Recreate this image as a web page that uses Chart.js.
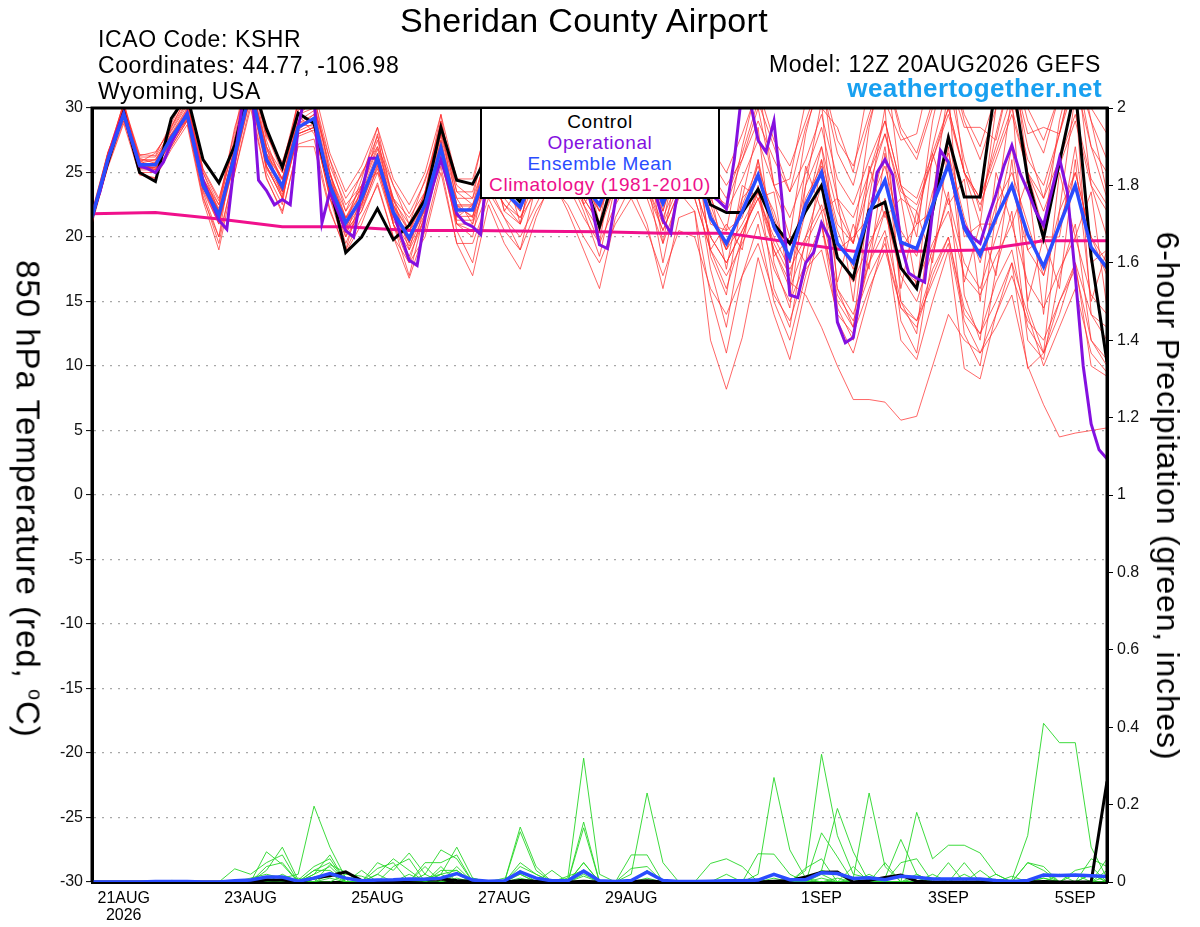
<!DOCTYPE html>
<html><head><meta charset="utf-8">
<script src="https://cdn.jsdelivr.net/npm/chart.js@4.4.1/dist/chart.umd.min.js"></script>
<style>
body{margin:0;background:#fff;}
#wrap{position:relative;width:1200px;height:927px;overflow:hidden;font-family:'Liberation Sans',Arial,Helvetica,sans-serif;color:#000;}
#wrap canvas{position:absolute;left:0;top:0;}
.txt{position:absolute;white-space:nowrap;line-height:1;letter-spacing:0.6px;font-size:23px;}
#legend{position:absolute;left:480px;top:107px;width:240px;height:92px;box-sizing:border-box;border:2px solid #000;background:#fff;text-align:center;font-size:19px;letter-spacing:0.6px;line-height:21.3px;padding-top:1.5px;}
.ax{position:absolute;white-space:nowrap;font-size:32px;letter-spacing:0.8px;line-height:1;transform:translate(-50%,-50%) rotate(90deg);}
</style></head>
<body>
<div id="wrap">
<canvas id="c" width="1200" height="927"></canvas>
<div class="txt" style="left:584px;top:3px;font-size:34px;letter-spacing:0.3px;transform:translateX(-50%);">Sheridan County Airport</div>
<div class="txt" style="left:98px;top:27.5px;">ICAO Code: KSHR</div>
<div class="txt" style="left:98px;top:53.5px;">Coordinates: 44.77, -106.98</div>
<div class="txt" style="left:98px;top:79.5px;">Wyoming, USA</div>
<div class="txt" style="right:99px;top:52.5px;">Model: 12Z 20AUG2026 GEFS</div>
<div class="txt" style="right:98px;top:75px;font-size:26px;font-weight:bold;letter-spacing:0.4px;color:#18a0f0;">weathertogether.net</div>
<div id="legend">
<div style="color:#000">Control</div>
<div style="color:#8410e0">Operational</div>
<div style="color:#2a4cff">Ensemble Mean</div>
<div style="color:#ee0f8a">Climatology (1981-2010)</div>
</div>
<div class="ax" style="left:28px;top:499px;font-size:33px;letter-spacing:1px;">850 hPa Temperature (red, <span style="font-size:60%;vertical-align:60%;">o</span>C)</div>
<div class="ax" style="left:1168px;top:496px;">6-hour Precipitation (green, inches)</div>
</div>
<script>
// time axis: hours after 12Z 20AUG2026
const xTickHours = [12, 60, 108, 156, 204, 276, 324, 372];
const xTickLabels = [['21AUG', '2026'], '23AUG', '25AUG', '27AUG', '29AUG', '1SEP', '3SEP', '5SEP'];

// 850 hPa temperature (deg C), 6-hourly
const controlTemp = [21.5,25.8,29.7,25.0,24.3,29.2,31.0,26.0,24.2,27.1,
32.5,28.4,25.4,29.6,28.8,24.0,18.8,20.0,22.2,19.8,
20.9,22.9,28.5,24.4,24.1,26.5,24.0,22.7,25.5,28.5,
27.0,24.5,20.8,25.0,28.0,26.0,24.5,26.5,26.0,22.5,
21.9,21.9,23.7,21.0,19.5,22.0,24.0,18.4,16.8,22.1,
22.7,17.6,16.0,22.0,27.7,23.1,23.1,32.0,32.5,24.5,
19.9,25.8,31.5,18.5,10.3];
const meanTemp = [21.5,26.0,29.5,25.6,25.6,27.7,29.5,24.0,21.7,26.4,
31.5,26.0,23.9,28.5,29.2,24.0,21.1,23.0,26.1,21.9,
19.9,22.5,26.9,22.1,22.1,25.5,23.5,22.3,25.0,27.5,
26.5,24.0,22.5,25.5,27.5,25.5,22.6,25.5,25.5,21.5,
19.5,22.0,24.8,20.8,18.4,22.5,25.0,19.5,18.0,21.9,
24.4,19.6,19.1,22.5,25.6,20.7,18.6,21.5,24.0,20.2,
17.7,20.9,24.0,19.2,17.6];
// operational run, 3-hourly
const operationalTemp = [21.8,23.5,26.0,28.0,29.6,27.5,25.5,25.3,25.0,25.8,
27.3,28.5,29.6,27.0,24.4,22.8,21.3,20.6,26.0,30.5,
33.0,24.4,23.6,22.5,22.9,22.5,28.5,31.5,31.0,21.1,
23.5,22.0,20.5,20.0,23.5,26.1,26.1,24.0,21.9,20.0,
18.2,17.8,21.5,24.0,26.0,24.0,21.8,21.1,20.8,20.2,
26.5,29.0,27.0,25.0,24.5,26.0,28.0,29.5,30.0,28.0,
27.0,25.5,24.5,22.5,19.4,19.1,22.8,26.0,28.5,28.0,
26.0,23.5,21.3,20.3,24.0,26.5,27.0,25.5,23.3,22.8,
22.2,26.0,31.5,30.5,27.5,26.6,29.0,23.0,15.5,15.3,
18.0,18.8,21.1,19.9,13.4,11.8,12.2,16.0,21.0,25.0,
26.0,24.8,19.5,17.2,16.8,16.5,22.0,26.7,25.8,23.0,
20.9,20.0,19.5,21.5,23.3,25.5,27.1,25.0,23.6,22.0,
20.9,23.5,26.1,23.5,17.0,10.0,5.5,3.5,2.8];
// climatology, daily
const climoTemp = [21.8,21.9,21.4,20.8,20.8,20.5,20.5,20.45,20.4,20.3,20.3,19.6,18.9,18.9,19.0,19.7,19.7];

// ensemble members, 6-hourly
const ensTemp01 = [22,26.5,30,26,26,28,30,24.5, 22.5,28.5,32.5,28,25,30.5,30,26,22,25,27,24,21,24.5,28,24,23, 28.5,27.5,24.5,30,30.5,30.5,26,27.5,28.5,31.5,27.5,26.5,28.5,30.5,23.5,22.5,26,30,24, 24.5,30.5,30,28.5,25,32,30.5,27.5,28,33.5,32.5,28.5,28.5,27.5,33,28,28.5,28,33,29,23.5];
const ensTemp02 = [21,25.5,29,25,25,27,29,23, 20,25,30,24.5,22,27,27,22,19,21.5,24,20,18,20,25,19.5,19.5, 23,20.5,19,22,24,22.5,20,18,21,23,20.5,17,20.5,20,16,14,17,19.5,15.5, 13.5,17.5,19,14,12.5,16,19,14.5,13,17,20,14,12.5,15,18,14,10,13,16,11,9.5];
const ensTemp03 = [21.7,26.5,29,26,25,28,29,24.5, 22,25.5,32,27,23,29.5,28,25,20,24,25,23,19,23.5,26,23,21, 27,22,24,23.5,29.5,25,26,21,27.5,26,27.5,21,27,24,23.5,17.5,24,23,23.5, 16,25.5,22,23,15,25.5,21.5,23,16,26.5,22.5,24.5,15,25,21,24.5,14,25,20,23.5,14.5];
const ensTemp04 = [21.4,26,30.5,25.8,26.5,28.5,30.5,25, 22,27,33,27,24.5,29.5,30.5,25,21.5,24,27.5,23,20.5,23.5,29,23.5,22.5, 27,25,24,27.5,30.5,29,26.5,25,28.5,31.5,29,25,29,30,25,23,26.5,30.5,27, 23.5,28.5,32,26.5,24,29,33,28,26,30,34,29,26,30,34,29,26.5,31,35,29,26];
const ensTemp05 = [21.6,25.8,29.3,25.3,25.8,27.2,29.2,23.6, 21,26,31,25.5,23.5,28,28.5,23,20.5,22,25.5,21,19,21.5,26,21,21, 24.5,22.5,21,24,26,25,22.5,20.5,24,26,23.5,20.5,23.5,23,19,17,19.5,22,17.5, 15,18,21,15.5,13.5,17,19.5,14.5,13.5,16.5,19.5,13.5,11,13,15.5,10,7,4.5,4.8,5,5.2];
const ensTemp06 = [21.5,26.3,29.8,25.2,25.2,27.8,29.8,24.3, 21.8,26.8,31.8,26.5,24.5,28.8,29.5,24.5,21.5,23.5,26.5,22.5,20.5,23,27.5,22.5,22.5, 26,24,23,25.5,28,27,24,22,25,27,24.5,21.5,24.5,24,20,18,20.5,23,19, 16.5,15.5,13,10,7.4,7.4,7.2,5.8,6.1,10,14,12,11,14,17,13.5,12,15,18,14,13];
const ensTemp07 = [21.5,25.7,29.7,25.7,25.3,27.4,29.3,24.2, 21.3,26.2,31.2,26.5,23.5,28.5,29.5,23.5,21.5,22.5,26.5,21.5,20.5,22,27.5,21.5,22.5, 25,24,22,26,27,27.5,23.5,23.5,25,28.5,25,23.5,25,26.5,21,20.5,21.5,26,20.5, 19.5,22,27,19,20,21.5,27,19,21,22,28,20,21,21,27,19,20,20,27,18,19];
const ensTemp08 = [21.4,26.2,29.2,25.4,25.6,27.6,29.6,23.8, 21.6,26.6,31.6,25.5,23,28,28.5,23,20,22,25,21,18.5,21.5,26,21,20.5, 23.5,21.5,20,22.5,25,24,21.5,19.5,22.5,24.5,23,19.5,23,23,19,16,20,23.5,19.5, 17,22,26,21,19.5,24,28,23,22,26,30,25,23,27,31,26,24,28,32,27,25];
const ensTemp09 = [21.6,26.4,30.4,25,24.5,28.5,31,23.5, 20,27.5,33,25,22.5,30,30.5,23,19,23.5,28,21,18,22.5,29,21,20, 26.5,22,21,26.5,29.5,28.5,22.5,19.5,27,30.5,26.5,19.5,26.5,28.5,18.5,15.5,23,28.5,18, 14.5,24,30.5,16,13,23,30,15,12.5,23,31.5,15.5,12,22,31,14.5,11,22,31,14,12];
const ensTemp10 = [21.8,26.6,29.6,26.2,26.2,28.2,30.2,25, 22.5,27.5,32,27,25,29.5,30,25.5,22.5,24,27,23,21.5,23.5,28,23.5,23.5, 27.5,25.5,24.5,27,29.5,28.5,26.5,25,27.5,29.5,28,25,28,28,24.5,22,24.5,27.5,24, 21.5,25,28.5,23,21.5,25,28,23.5,22.5,26,29.5,25,22.5,26,29.5,25,22,25.5,29,24,22];
const ensTemp11 = [21.3,25.6,29.4,25.6,25.2,27,29,23.2, 19.5,25.5,31,25.5,23,28,28.5,23.5,19.5,22.5,26,21,17,22,27,20.5,18, 24,21.5,19,24,27,25,22,18.5,24,27,24.5,18,24,25,17.5,13,20,24,16, 13,20,24,14.5,12,19,23,13.5,11,18.5,23.5,12.5,10,17.5,22,12,10.5,17,21,12,10];
const ensTemp12 = [21.5,26.1,29.5,25.9,25.9,27.9,29.9,24.4, 21.9,26.9,31.4,26.4,24.4,28.9,28.9,24.4,21.4,23.4,25.9,22.4,20.4,22.9,26.9,22.4,22.4, 25,23,23,24.5,28,26,25,22,26.5,27,26.5,22,26.5,25,22.5,19,23,24.5,22, 18,24,27,22,19.5,25,29,24,21,27,32,26,22,28,33,27,23,28,33.5,27,23];
const ensTemp13 = [21.4,25.9,29.3,25.3,25.4,27.3,29.1,23.8, 21,25.8,30.8,25.3,23.3,27.8,28.3,23.3,20.3,22.3,25.3,21.3,19.3,21.8,26.3,21.3,21.3, 24.5,22.5,21.5,23.5,26,25,23,21,24,26,24,21,24,24,20,18,20.5,23,20, 17.5,20,22.5,18.5,16.5,19.5,22,17.5,16.5,19.5,22,17,15.5,18.5,21,16.5,14.5,17.5,20,15.5,14];
const ensTemp14 = [21.6,26.2,30.2,26.1,25.7,28.6,30.8,24.6, 22.2,27.8,33.5,27.5,24,30.5,31,25,21,24.5,28.5,22.5,19.5,23.5,29.5,22.5,21.5, 28,24,23,28,31,29.5,25,23.5,29,32,28,23,29.5,31,23,20.5,27,32,24, 20,28,33,23,19.5,28.5,34,24,20,29,34.5,25,21,30,35,25,20.5,29,34,24,20];
const ensTemp15 = [21.5,25.8,29.6,25.5,25.5,27.5,29.4,24.1, 21.4,26.3,31.6,26.2,23.8,28.3,29.3,24.2,20.8,22.8,26.3,21.7,19.7,22.2,27.2,21.8,22.3, 24,25.5,21,26.5,25.5,28,22.5,24.5,23.5,29,23,24.5,23,27,19,21,19,26,18.5, 20,18,26,16.5,21,17.5,26.5,16,22,18,27,16.5,21,17,26,15,20,16,26,15,19];
const ensTemp16 = [21.7,26.1,29.9,25.7,26,27.9,29.6,24.4, 22,26.8,32,26.8,24.5,29,29.8,24.8,22,23.8,26.8,22.8,21,23.3,27.8,23,23, 26.5,24.5,23.5,26,28.5,27.5,25,23.5,26.5,28.5,26,23,26,25.5,21.5,19,21,23.5,19, 16,19.5,22,16,14,18,20.5,15,13.5,17.5,20,14.5,12.5,16.5,19,13,11,15,17.5,12,10.5];
const ensTemp17 = [21.4,26.3,30.1,26.3,26.6,28.3,30.4,25.3, 23,27.2,32.8,27.8,25.8,29.8,30.8,26,23,24.8,27.8,24,21.8,24.3,28.8,24.5,24.5, 29,27,26,28.5,31.5,30,28,26.5,29,31.5,29.5,26.5,29,29.5,26,24,26,29,26, 23.5,26,29.5,24.5,22.5,26,29,24,23,26.5,30,25,23,26.5,30,25,23,26,29.5,24.5,22.5];
const ensTemp18 = [21.2,25.4,28.8,24.8,24.6,26.8,28.7,22.8, 19,25,30.4,24.6,21.8,27.2,27.6,22.2,18.8,21,24.2,20,16.8,20.5,25.5,19.5,17, 22.5,19.5,17.5,21.5,24.5,22,19,16,21.5,24,21,16,21.5,22,15.5,11,17,21,15, 12,17,21,13.5,11,15.5,20,12,10.5,15,19,9.8,9,14,18,9.8,11,14,18,10,9.2];
const ensTemp19 = [21.5,26,29.4,25.8,25.2,27.7,29.2,24.3, 21.2,26.7,31.2,26.3,23.6,28.7,28.6,24.3,20.7,23.3,25.7,22.3,19.6,22.8,26.6,22.4,21.6, 25.5,23.5,22,25.5,27,26.5,24.5,22,25.5,28,25,22,26,25.5,22,19,22.5,25.5,21.5, 18,23,25.5,20.5,17.5,22.5,25.5,20.5,18.5,23.5,26.5,21.5,18,22.5,25,21,17,22,25,20,17];
const ensTemp20 = [21.6,26.5,30.3,26.4,26.3,28.8,31.2,25.2, 22.8,28.2,34,28,25.5,30.5,31.5,26.5,23.5,25.5,28.5,24.5,22.5,25,29.5,24.5,24, 29.5,27.5,26.5,29.5,32,31,28.5,27,30.5,32.5,30.5,27.5,30.5,31,27,25,28,31.5,27.5, 25.5,29,32.5,27.5,25.5,29.5,33,28.5,26.5,30.5,34,29.5,27,31,35,30,27.5,31,35,30,28];
const ensTemp21 = [21.3,25.9,29.6,25.4,25.4,27.4,29.4,23.9, 21.2,26.2,31.2,25.8,23.6,28.2,28.8,23.6,20.6,22.6,25.6,21.6,19.6,22.1,26.6,21.6,21.6, 25,23,21.5,24.5,27,25.5,23,21,24.5,26.5,24,20.5,23.5,22,12,8.2,12.2,18.4,14, 10.5,16,21,15,13,18,22,17,15,19,23,18,16,20,24,19,17,21,25,20,18];
const ensTempMembers = [ensTemp01,ensTemp02,ensTemp03,ensTemp04,ensTemp05,ensTemp06,ensTemp07,ensTemp08,ensTemp09,ensTemp10,ensTemp11,ensTemp12,ensTemp13,ensTemp14,ensTemp15,ensTemp16,ensTemp17,ensTemp18,ensTemp19,ensTemp20,ensTemp21];

// 6-hour precipitation (inches), 6-hourly
const controlPrecip = [0,0,0,0,0,0,0,0,0,0, 0,0.005,0.005,0,0.01,0.016,0.026,0.004,0.002,0.003, 0.004,0.006,0.008,0.004,0.001,0,0,0.004,0.002,0, 0,0.002,0,0,0.001,0.003,0,0,0,0, 0,0,0,0.002,0.004,0.013,0.025,0.026,0,0.004, 0.012,0.018,0.002,0,0,0,0,0,0,0, 0.001,0,0,0,0.26];
const meanPrecip = [0,0,0,0,0.001,0.001,0.001,0,0,0.003, 0.005,0.013,0.013,0.002,0.01,0.022,0.01,0.003,0.005,0.006, 0.008,0.007,0.01,0.022,0.005,0.002,0.003,0.026,0.01,0.003, 0.003,0.028,0.003,0.001,0.004,0.026,0.004,0.001,0.001,0.002, 0.003,0.003,0.005,0.02,0.006,0.006,0.024,0.022,0.009,0.011, 0.006,0.015,0.012,0.008,0.008,0.008,0.008,0.004,0.001,0.004, 0.018,0.017,0.018,0.016,0.014];
const ensPrecip01 = [0,0,0,0,0,0,0,0,0,0, 0,0,0.01,0.02,0.196,0.09,0.01,0,0,0, 0,0.01,0.02,0.03,0,0,0,0.142,0.04,0, 0,0.05,0,0,0,0,0,0,0,0, 0,0,0,0,0,0,0.01,0,0,0, 0,0,0,0,0,0,0,0,0.005,0.12, 0.41,0.36,0.36,0.09,0.01];
const ensPrecip02 = [0,0,0,0,0,0,0,0,0,0, 0,0.078,0.045,0,0.02,0.07,0,0,0.02,0.06, 0.03,0,0.02,0.09,0.01,0,0,0.13,0.03,0, 0.01,0.32,0.02,0,0,0,0,0,0,0, 0,0,0,0,0,0.03,0.33,0.12,0.02,0.01, 0,0,0,0,0,0.02,0,0,0,0, 0.01,0,0.02,0,0];
const ensPrecip03 = [0,0,0,0,0,0,0,0,0,0, 0,0.03,0.09,0.005,0.04,0.06,0,0,0.05,0.03, 0.075,0.02,0.083,0.06,0,0,0,0.02,0,0, 0,0.155,0,0,0.02,0.23,0.05,0,0,0, 0,0,0.02,0.27,0.083,0.01,0,0,0.01,0.23, 0.04,0,0,0.01,0,0,0,0,0,0, 0.02,0,0,0.02,0];
const ensPrecip04 = [0,0,0,0,0,0,0,0,0,0.034, 0.02,0.05,0.07,0,0.03,0.05,0,0.03,0,0, 0,0.05,0.05,0.07,0,0,0,0.05,0.02,0, 0,0.14,0,0,0.07,0.07,0,0,0,0, 0,0,0,0,0,0,0.03,0.19,0.078,0, 0,0,0.18,0.06,0.095,0.095,0.075,0.02,0,0.05, 0.03,0,0,0,0.06];
const ensPrecip05 = [0,0,0,0,0,0,0,0,0,0, 0,0.04,0.05,0,0,0.045,0.025,0,0,0.04, 0.06,0,0.04,0,0,0,0,0.04,0.02,0, 0,0.05,0,0,0,0,0,0,0,0.048, 0.06,0.04,0,0,0,0,0.127,0.065,0,0, 0.01,0.11,0.02,0,0,0,0,0.02,0,0, 0,0,0,0,0];
const ensPrecip06 = [0,0,0,0,0,0,0,0,0,0, 0,0,0,0,0.03,0.03,0,0,0.035,0.05, 0,0.04,0,0.04,0,0,0,0,0,0, 0.015,0.03,0,0,0,0,0,0,0,0, 0,0,0.073,0.072,0.02,0,0,0,0,0, 0,0.05,0.06,0,0,0.05,0,0,0,0.05, 0.04,0,0,0.06,0.04];
const ensPrecip07 = [0,0,0,0,0,0,0,0,0,0, 0,0,0.02,0,0.02,0.04,0,0,0,0, 0.02,0,0.03,0.03,0,0,0,0.03,0,0.03, 0,0.02,0,0,0.035,0.04,0,0,0,0, 0,0,0,0,0,0.036,0.06,0,0.04,0, 0.05,0,0,0,0.05,0,0,0,0,0, 0,0,0.03,0.04,0];
const ensPrecip08 = [0,0,0,0,0,0,0,0,0,0, 0,0,0,0.01,0,0.02,0,0,0.02,0, 0,0.02,0,0.02,0,0,0.01,0.02,0,0, 0,0,0,0,0,0.03,0,0,0,0, 0,0,0,0.02,0,0,0.03,0.02,0,0, 0,0,0,0.02,0,0,0.03,0,0,0, 0,0.02,0,0,0.03];
const ensPrecip09 = [0,0,0,0,0,0,0,0,0,0, 0.01,0.02,0.01,0,0,0,0.02,0.015,0,0, 0,0,0.02,0,0.01,0,0,0,0,0, 0,0.015,0,0,0,0,0,0,0,0, 0.02,0,0,0,0,0,0.02,0,0,0.02, 0,0,0.01,0,0,0,0,0,0.015,0, 0,0,0,0.02,0];
const ensPrecip10 = [0,0,0,0,0,0.004,0.003,0,0,0, 0,0.01,0,0,0,0.01,0,0,0,0, 0,0,0,0.01,0,0,0,0.01,0,0, 0,0,0,0,0,0.01,0,0,0,0, 0,0,0,0.01,0,0,0,0.01,0,0, 0,0,0.02,0,0,0,0,0,0,0, 0.01,0,0,0,0.015];
const ensPrecipMembers = [ensPrecip01,ensPrecip02,ensPrecip03,ensPrecip04,ensPrecip05,ensPrecip06,ensPrecip07,ensPrecip08,ensPrecip09,ensPrecip10];

const FONT = "'Liberation Sans', Arial, Helvetica, sans-serif";
Chart.defaults.font.family = FONT;
Chart.defaults.color = '#000';

const pts = (arr, stepHours) => arr.map((v, i) => ({x: i * stepHours, y: v}));
const line = (label, arr, step, color, width, axis) => ({
  label, data: pts(arr, step), borderColor: color, borderWidth: width,
  yAxisID: axis, pointRadius: 0, fill: false, tension: 0
});

const datasets = [];
// drawn last = on top (Chart.js draws dataset 0 last)
datasets.push(line('Ensemble Mean', meanTemp, 6, '#2a4cff', 3.5, 'y'));
datasets.push(line('Operational', operationalTemp, 3, '#8410e0', 3, 'y'));
datasets.push(line('Control', controlTemp, 6, '#000000', 3, 'y'));
datasets.push(line('Climatology (1981-2010)', climoTemp, 24, '#f0108c', 3, 'y'));
datasets.push(line('Mean precip', meanPrecip, 6, '#2a4cff', 3.5, 'y2'));
datasets.push(line('Control precip', controlPrecip, 6, '#000000', 3, 'y2'));
ensPrecipMembers.forEach((m, k) => datasets.push(line('P' + (k + 1), m, 6, 'rgba(40,215,40,0.9)', 1, 'y2')));
ensTempMembers.forEach((m, k) => datasets.push(line('T' + (k + 1), m, 6, 'rgba(255,45,45,0.72)', 1, 'y')));

const framePlugin = {
  id: 'frame',
  afterDatasetsDraw(chart) {
    const {ctx, chartArea: a} = chart;
    ctx.save();
    ctx.strokeStyle = '#000';
    ctx.lineWidth = 3;
    ctx.beginPath();
    ctx.moveTo(a.left, a.bottom);
    ctx.lineTo(a.left, a.top);
    ctx.lineTo(a.right, a.top);
    ctx.lineTo(a.right, a.bottom);
    ctx.stroke();
    ctx.restore();
  }
};

new Chart(document.getElementById('c'), {
  type: 'line',
  data: {datasets},
  plugins: [framePlugin],
  options: {
    responsive: false,
    devicePixelRatio: 1,
    animation: false,
    events: [],
    layout: {padding: {top: 108, left: 0, right: 0, bottom: 0}},
    plugins: {legend: {display: false}, tooltip: {enabled: false}, title: {display: false}},
    scales: {
      x: {
        type: 'linear', min: 0, max: 384,
        afterBuildTicks: s => { s.ticks = xTickHours.map(v => ({value: v})); },
        afterFit: s => { s.height = 45; },
        ticks: {
          autoSkip: false, maxRotation: 0, minRotation: 0, padding: 8, color: '#000',
          font: {size: 16, lineHeight: 1.08},
          callback: v => { const k = xTickHours.indexOf(v); return k < 0 ? '' : xTickLabels[k]; }
        },
        grid: {display: true, drawOnChartArea: false, drawTicks: false},
        border: {display: true, color: '#000', width: 3}
      },
      y: {
        position: 'left', min: -30, max: 30,
        afterFit: s => { s.width = 92; },
        ticks: {stepSize: 5, padding: 3, color: '#111', font: {size: 16}},
        grid: {color: '#a8a8a8', lineWidth: 1.2, drawTicks: true, tickLength: 6, tickColor: '#000', tickWidth: 1},
        border: {display: true, color: '#000', width: 3, dash: [2, 6]}
      },
      y2: {
        position: 'right', min: 0, max: 2,
        afterFit: s => { s.width = 93; },
        ticks: {stepSize: 0.2, padding: 4, color: '#111', font: {size: 16},
          callback: v => String(Math.round(v * 10) / 10)},
        grid: {drawOnChartArea: false, drawTicks: true, tickLength: 6, tickColor: '#000', tickWidth: 1},
        border: {display: true, color: '#000', width: 3}
      }
    }
  }
});
</script>
</body></html>
